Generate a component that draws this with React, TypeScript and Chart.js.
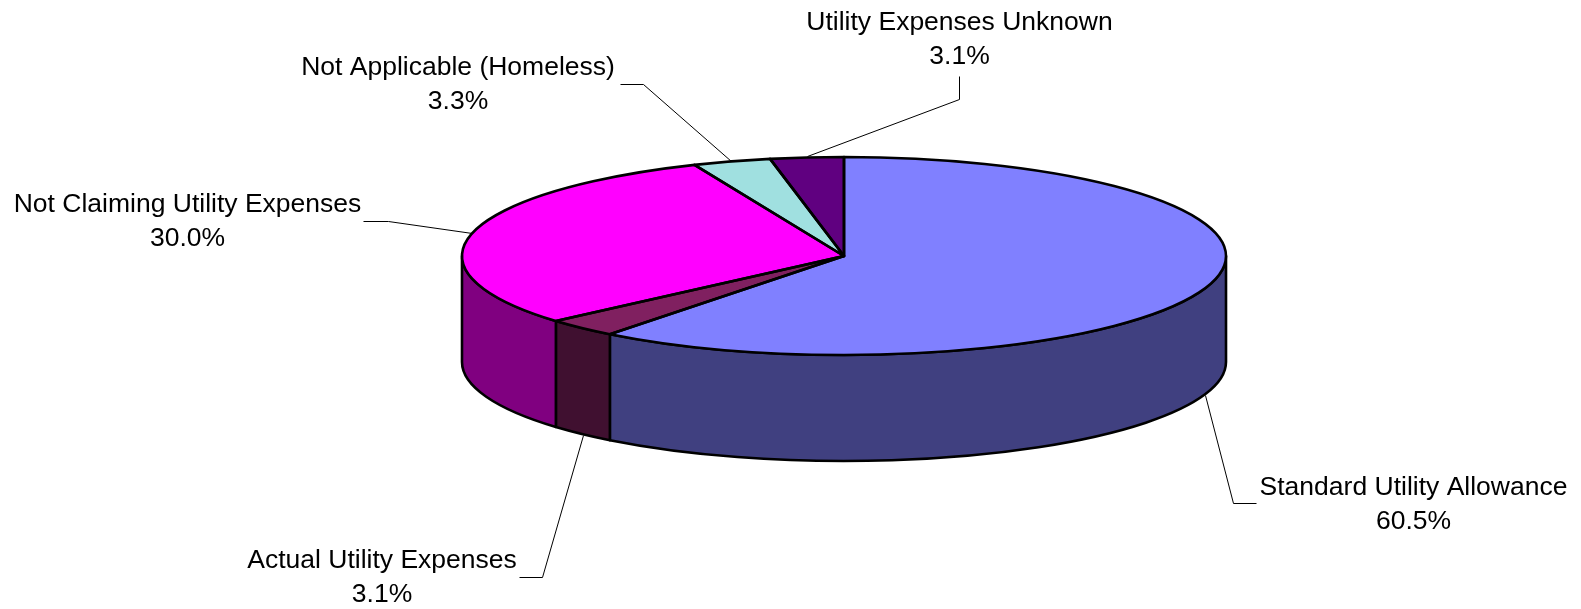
import React, { useEffect, useRef } from "react";
import { Chart, registerables } from "chart.js";

Chart.register(...registerables);

const categories = [
  "Standard Utility Allowance",
  "Actual Utility Expenses",
  "Not Claiming Utility Expenses",
  "Not Applicable (Homeless)",
  "Utility Expenses Unknown",
];
const shares = [60.5, 3.1, 30.0, 3.3, 3.1];
const topColors = ["#8080FF", "#802060", "#FF00FF", "#A0E0E0", "#600080"];
const wallColors = ["#404080", "#401030", "#800080", "#507070", "#300040"];

const labelAnchors = [
  { x: 1413.5, y: 495 },
  { x: 382, y: 568 },
  { x: 187.5, y: 212 },
  { x: 458, y: 75 },
  { x: 959.5, y: 30 },
];
const leaderLines = [
  [[1256, 503], [1233, 503], [1205, 395]],
  [[519, 577], [542, 577], [583, 435]],
  [[363, 221], [388, 221], [472, 233]],
  [[620, 84], [643, 84], [731, 161]],
  [[959, 76], [959, 99], [807, 156]],
];

const RADIUS = 382;
const TILT = 99 / 382;
const DEPTH = 106;
const FONT = '26.5px "Liberation Sans", Arial, sans-serif';
const LINE_GAP = 33.5;
const OUTLINE = 2.6;

const pie3d = {
  id: "pie3d",
  beforeDatasetsDraw(chart: any) {
    const ctx = chart.ctx;
    const arcs = chart.getDatasetMeta(0).data;
    const { x: cx, y: cy } = arcs[0];
    const ry = RADIUS * TILT;
    ctx.save();
    ctx.lineWidth = OUTLINE;
    ctx.strokeStyle = "#000";
    ctx.lineJoin = "round";
    arcs.forEach((arc: any, i: number) => {
      const a = Math.max(arc.startAngle, 0);
      const b = Math.min(arc.endAngle, Math.PI);
      if (b <= a) return;
      ctx.beginPath();
      ctx.ellipse(cx, cy, RADIUS, ry, 0, a, b);
      ctx.ellipse(cx, cy + DEPTH, RADIUS, ry, 0, b, a, true);
      ctx.closePath();
      ctx.fillStyle = wallColors[i];
      ctx.fill();
      ctx.stroke();
    });
    ctx.restore();
    ctx.save();
    ctx.translate(cx, cy);
    ctx.scale(1, TILT);
    ctx.translate(-cx, -cy);
  },
  afterDatasetsDraw(chart: any) {
    const ctx = chart.ctx;
    ctx.restore();
    const arcs = chart.getDatasetMeta(0).data;
    const { x: cx, y: cy } = arcs[0];
    const ry = RADIUS * TILT;
    ctx.save();
    ctx.lineWidth = OUTLINE;
    ctx.strokeStyle = "#000";
    ctx.lineJoin = "round";
    arcs.forEach((arc: any) => {
      ctx.beginPath();
      ctx.moveTo(cx, cy);
      ctx.ellipse(cx, cy, RADIUS, ry, 0, arc.startAngle, arc.endAngle);
      ctx.closePath();
      ctx.stroke();
    });
    ctx.restore();

    ctx.save();
    ctx.lineWidth = 1;
    ctx.strokeStyle = "#000";
    leaderLines.forEach((pts) => {
      ctx.beginPath();
      pts.forEach(([x, y], k) => (k ? ctx.lineTo(x + 0.5, y + 0.5) : ctx.moveTo(x + 0.5, y + 0.5)));
      ctx.stroke();
    });
    ctx.fillStyle = "#000";
    ctx.font = FONT;
    ctx.textAlign = "center";
    ctx.textBaseline = "alphabetic";
    categories.forEach((name, i) => {
      const { x, y } = labelAnchors[i];
      ctx.fillText(name, x, y);
      ctx.fillText(shares[i].toFixed(1) + "%", x, y + LINE_GAP);
    });
    ctx.restore();
  },
};

export default function App() {
  const ref = useRef<HTMLCanvasElement>(null);
  useEffect(() => {
    document.body.style.margin = "0";
    const chart = new Chart(ref.current as HTMLCanvasElement, {
      type: "pie",
      data: {
        labels: categories,
        datasets: [{ data: shares, backgroundColor: topColors, borderWidth: 0 }],
      },
      options: {
        responsive: false,
        animation: false,
        events: [],
        radius: RADIUS,
        layout: { padding: { left: 107, right: 0, top: 0, bottom: 97 } },
        plugins: { legend: { display: false }, tooltip: { enabled: false } },
      } as any,
      plugins: [pie3d],
    });
    return () => chart.destroy();
  }, []);
  return <canvas ref={ref} width={1581} height={609} style={{ display: "block" }} />;
}
